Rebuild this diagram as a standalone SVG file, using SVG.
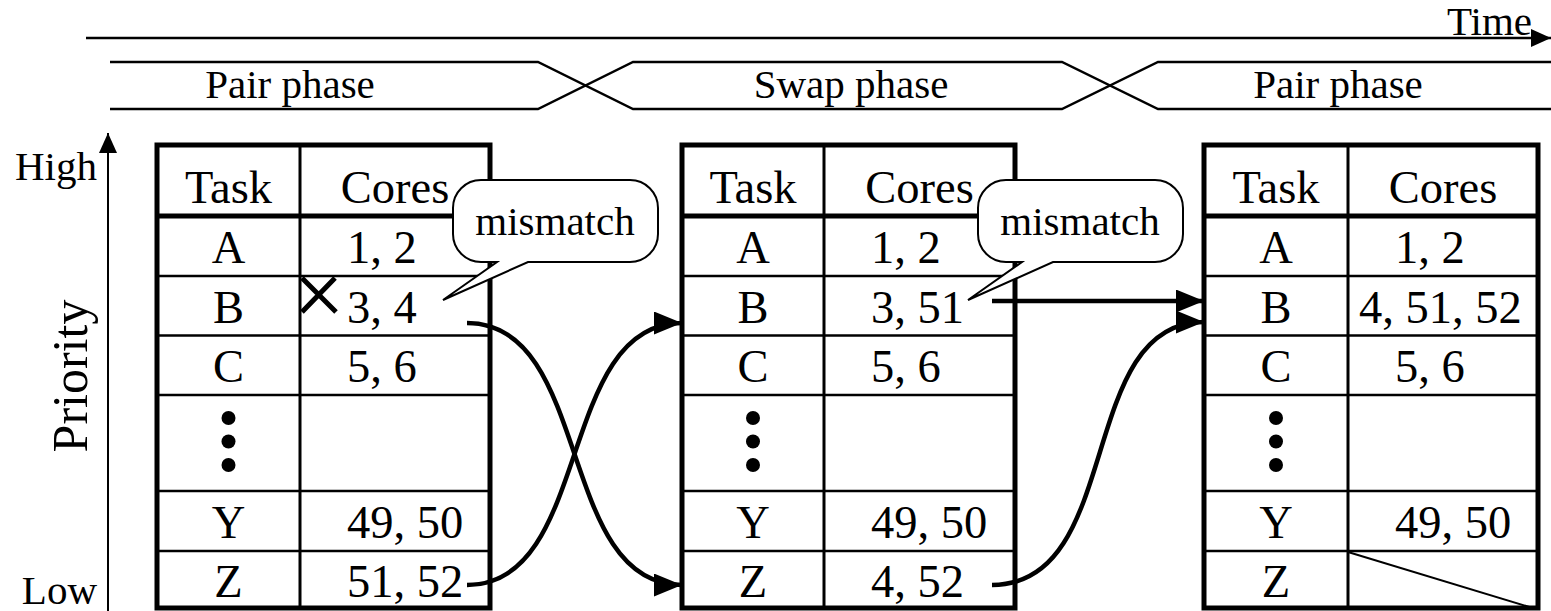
<svg xmlns="http://www.w3.org/2000/svg" width="1551" height="611" viewBox="0 0 1551 611">
  <style>
    text { font-family: "Liberation Serif", "Times New Roman", serif; fill: #000; }
    .lbl { font-size: 41px; }
    .cell { font-size: 46.5px; }
    .mid { text-anchor: middle; }
    .frame { fill: none; stroke: #000; stroke-width: 5; }
    .hdr { stroke: #000; stroke-width: 5; }
    .row { stroke: #000; stroke-width: 2.5; }
    .col { stroke: #000; stroke-width: 3; }
    .dot { fill: #000; }
    .band { fill: none; stroke: #000; stroke-width: 2.5; }
    .bubble { fill: #fff; stroke: #000; stroke-width: 2; stroke-linejoin: miter; }
    .link { fill: none; stroke: #000; stroke-width: 4.5; }
  </style>
  <defs>
    <marker id="head" markerUnits="userSpaceOnUse" markerWidth="30" markerHeight="24" refX="28" refY="11.5" orient="auto">
      <path d="M0,0 L28,11.5 L0,23 Z" fill="#000"/>
    </marker>
    <marker id="axisHead" markerUnits="userSpaceOnUse" markerWidth="22" markerHeight="20" refX="20" refY="9" orient="auto">
      <path d="M0,0 L20,9 L0,18 Z" fill="#000"/>
    </marker>
  </defs>

  <rect width="1551" height="611" fill="#fff"/>

  <!-- time axis -->
  <g id="time-axis">
    <line x1="86" y1="38" x2="1551" y2="38" stroke="#000" stroke-width="2.5" marker-end="url(#axisHead)"/>
    <text class="lbl" x="1532" y="35" text-anchor="end">Time</text>
  </g>

  <!-- phase band -->
  <g id="phases">
    <path class="band" d="M110,62 H538 L633,109 H1062 L1158,62 H1551"/>
    <path class="band" d="M110,109 H538 L633,62 H1062 L1158,109 H1551"/>
    <text class="lbl mid" x="290" y="98">Pair phase</text>
    <text class="lbl mid" x="851" y="98">Swap phase</text>
    <text class="lbl mid" x="1338" y="98">Pair phase</text>
  </g>

  <!-- priority axis -->
  <g id="priority-axis">
    <line x1="108" y1="611" x2="108" y2="133" stroke="#000" stroke-width="2" marker-end="url(#axisHead)"/>
    <text class="lbl" x="97" y="180" text-anchor="end">High</text>
    <text class="lbl" x="97" y="604" text-anchor="end">Low</text>
    <text class="cell mid" transform="translate(87,376) rotate(-90)" style="font-size:50px">Priority</text>
  </g>

  <!-- table before swap -->
  <g id="table-1">
    <rect class="frame" x="157" y="145" width="333" height="463"/>
    <line class="col" x1="300" y1="145" x2="300" y2="608"/>
    <line class="hdr" x1="157" y1="216" x2="490" y2="216"/>
    <line class="row" x1="157" y1="276" x2="490" y2="276"/>
    <line class="row" x1="157" y1="335.5" x2="490" y2="335.5"/>
    <line class="row" x1="157" y1="395" x2="490" y2="395"/>
    <line class="row" x1="157" y1="491" x2="490" y2="491"/>
    <line class="row" x1="157" y1="551" x2="490" y2="551"/>
    <text class="cell mid" x="228.5" y="203">Task</text>
    <text class="cell mid" x="395" y="203">Cores</text>
    <text class="cell mid" x="228.5" y="263">A</text>
    <text class="cell mid" x="228.5" y="323">B</text>
    <text class="cell mid" x="228.5" y="382">C</text>
    <text class="cell mid" x="228.5" y="538">Y</text>
    <text class="cell mid" x="228.5" y="597">Z</text>
    <text class="cell" x="347" y="263">1, 2</text>
    <text class="cell" x="347" y="323">3, 4</text>
    <text class="cell" x="347" y="382">5, 6</text>
    <text class="cell" x="347" y="538">49, 50</text>
    <text class="cell" x="347" y="597">51, 52</text>
    <circle class="dot" cx="228.5" cy="418" r="7"/>
    <circle class="dot" cx="228.5" cy="441.5" r="7"/>
    <circle class="dot" cx="228.5" cy="465" r="7"/>
    <path d="M302,278 L336,312 M302,312 L335,278" stroke="#000" stroke-width="5" fill="none"/>
  </g>

  <!-- table during swap -->
  <g id="table-2">
    <rect class="frame" x="682" y="145" width="333" height="463"/>
    <line class="col" x1="824" y1="145" x2="824" y2="608"/>
    <line class="hdr" x1="682" y1="216" x2="1015" y2="216"/>
    <line class="row" x1="682" y1="276" x2="1015" y2="276"/>
    <line class="row" x1="682" y1="335.5" x2="1015" y2="335.5"/>
    <line class="row" x1="682" y1="395" x2="1015" y2="395"/>
    <line class="row" x1="682" y1="491" x2="1015" y2="491"/>
    <line class="row" x1="682" y1="551" x2="1015" y2="551"/>
    <text class="cell mid" x="753" y="203">Task</text>
    <text class="cell mid" x="919.5" y="203">Cores</text>
    <text class="cell mid" x="753" y="263">A</text>
    <text class="cell mid" x="753" y="323">B</text>
    <text class="cell mid" x="753" y="382">C</text>
    <text class="cell mid" x="753" y="538">Y</text>
    <text class="cell mid" x="753" y="597">Z</text>
    <text class="cell" x="871" y="263">1, 2</text>
    <text class="cell" x="871" y="323">3, 51</text>
    <text class="cell" x="871" y="382">5, 6</text>
    <text class="cell" x="871" y="538">49, 50</text>
    <text class="cell" x="871" y="597">4, 52</text>
    <circle class="dot" cx="753" cy="418" r="7"/>
    <circle class="dot" cx="753" cy="441.5" r="7"/>
    <circle class="dot" cx="753" cy="465" r="7"/>
  </g>

  <!-- table after swap -->
  <g id="table-3">
    <rect class="frame" x="1204" y="145" width="334" height="463"/>
    <line class="col" x1="1348" y1="145" x2="1348" y2="608"/>
    <line class="hdr" x1="1204" y1="216" x2="1538" y2="216"/>
    <line class="row" x1="1204" y1="276" x2="1538" y2="276"/>
    <line class="row" x1="1204" y1="335.5" x2="1538" y2="335.5"/>
    <line class="row" x1="1204" y1="395" x2="1538" y2="395"/>
    <line class="row" x1="1204" y1="491" x2="1538" y2="491"/>
    <line class="row" x1="1204" y1="551" x2="1538" y2="551"/>
    <text class="cell mid" x="1276" y="203">Task</text>
    <text class="cell mid" x="1443" y="203">Cores</text>
    <text class="cell mid" x="1276" y="263">A</text>
    <text class="cell mid" x="1276" y="323">B</text>
    <text class="cell mid" x="1276" y="382">C</text>
    <text class="cell mid" x="1276" y="538">Y</text>
    <text class="cell mid" x="1276" y="597">Z</text>
    <text class="cell" x="1395" y="263">1, 2</text>
    <text class="cell" x="1359" y="323">4, 51, 52</text>
    <text class="cell" x="1395" y="382">5, 6</text>
    <text class="cell" x="1395" y="538">49, 50</text>
    <circle class="dot" cx="1276" cy="418" r="7"/>
    <circle class="dot" cx="1276" cy="441.5" r="7"/>
    <circle class="dot" cx="1276" cy="465" r="7"/>
    <line x1="1348" y1="552" x2="1536" y2="609" stroke="#000" stroke-width="2"/>
  </g>

  <!-- connectors -->
  <g id="connectors">
    <path class="link" d="M467,323 C593,323 556,585 682,585" marker-end="url(#head)"/>
    <path class="link" d="M467,585 C593,585 556,323 682,323" marker-end="url(#head)"/>
    <path class="link" d="M992,301 H1204" marker-end="url(#head)"/>
    <path class="link" d="M992,585 C1125,585 1075,322 1204,322" marker-end="url(#head)"/>
  </g>

  <!-- callouts -->
  <g id="callout-1">
    <path class="bubble" d="M481,180 H630 A28,28 0 0 1 658,208 V234 A28,28 0 0 1 630,262 H528 L443,300 L497,262 H481 A28,28 0 0 1 453,234 V208 A28,28 0 0 1 481,180 Z"/>
    <text class="lbl mid" x="555" y="235">mismatch</text>
  </g>
  <g id="callout-2">
    <path class="bubble" d="M1006,180 H1155 A28,28 0 0 1 1183,208 V234 A28,28 0 0 1 1155,262 H1053 L968,300 L1022,262 H1006 A28,28 0 0 1 978,234 V208 A28,28 0 0 1 1006,180 Z"/>
    <text class="lbl mid" x="1080" y="235">mismatch</text>
  </g>
</svg>
